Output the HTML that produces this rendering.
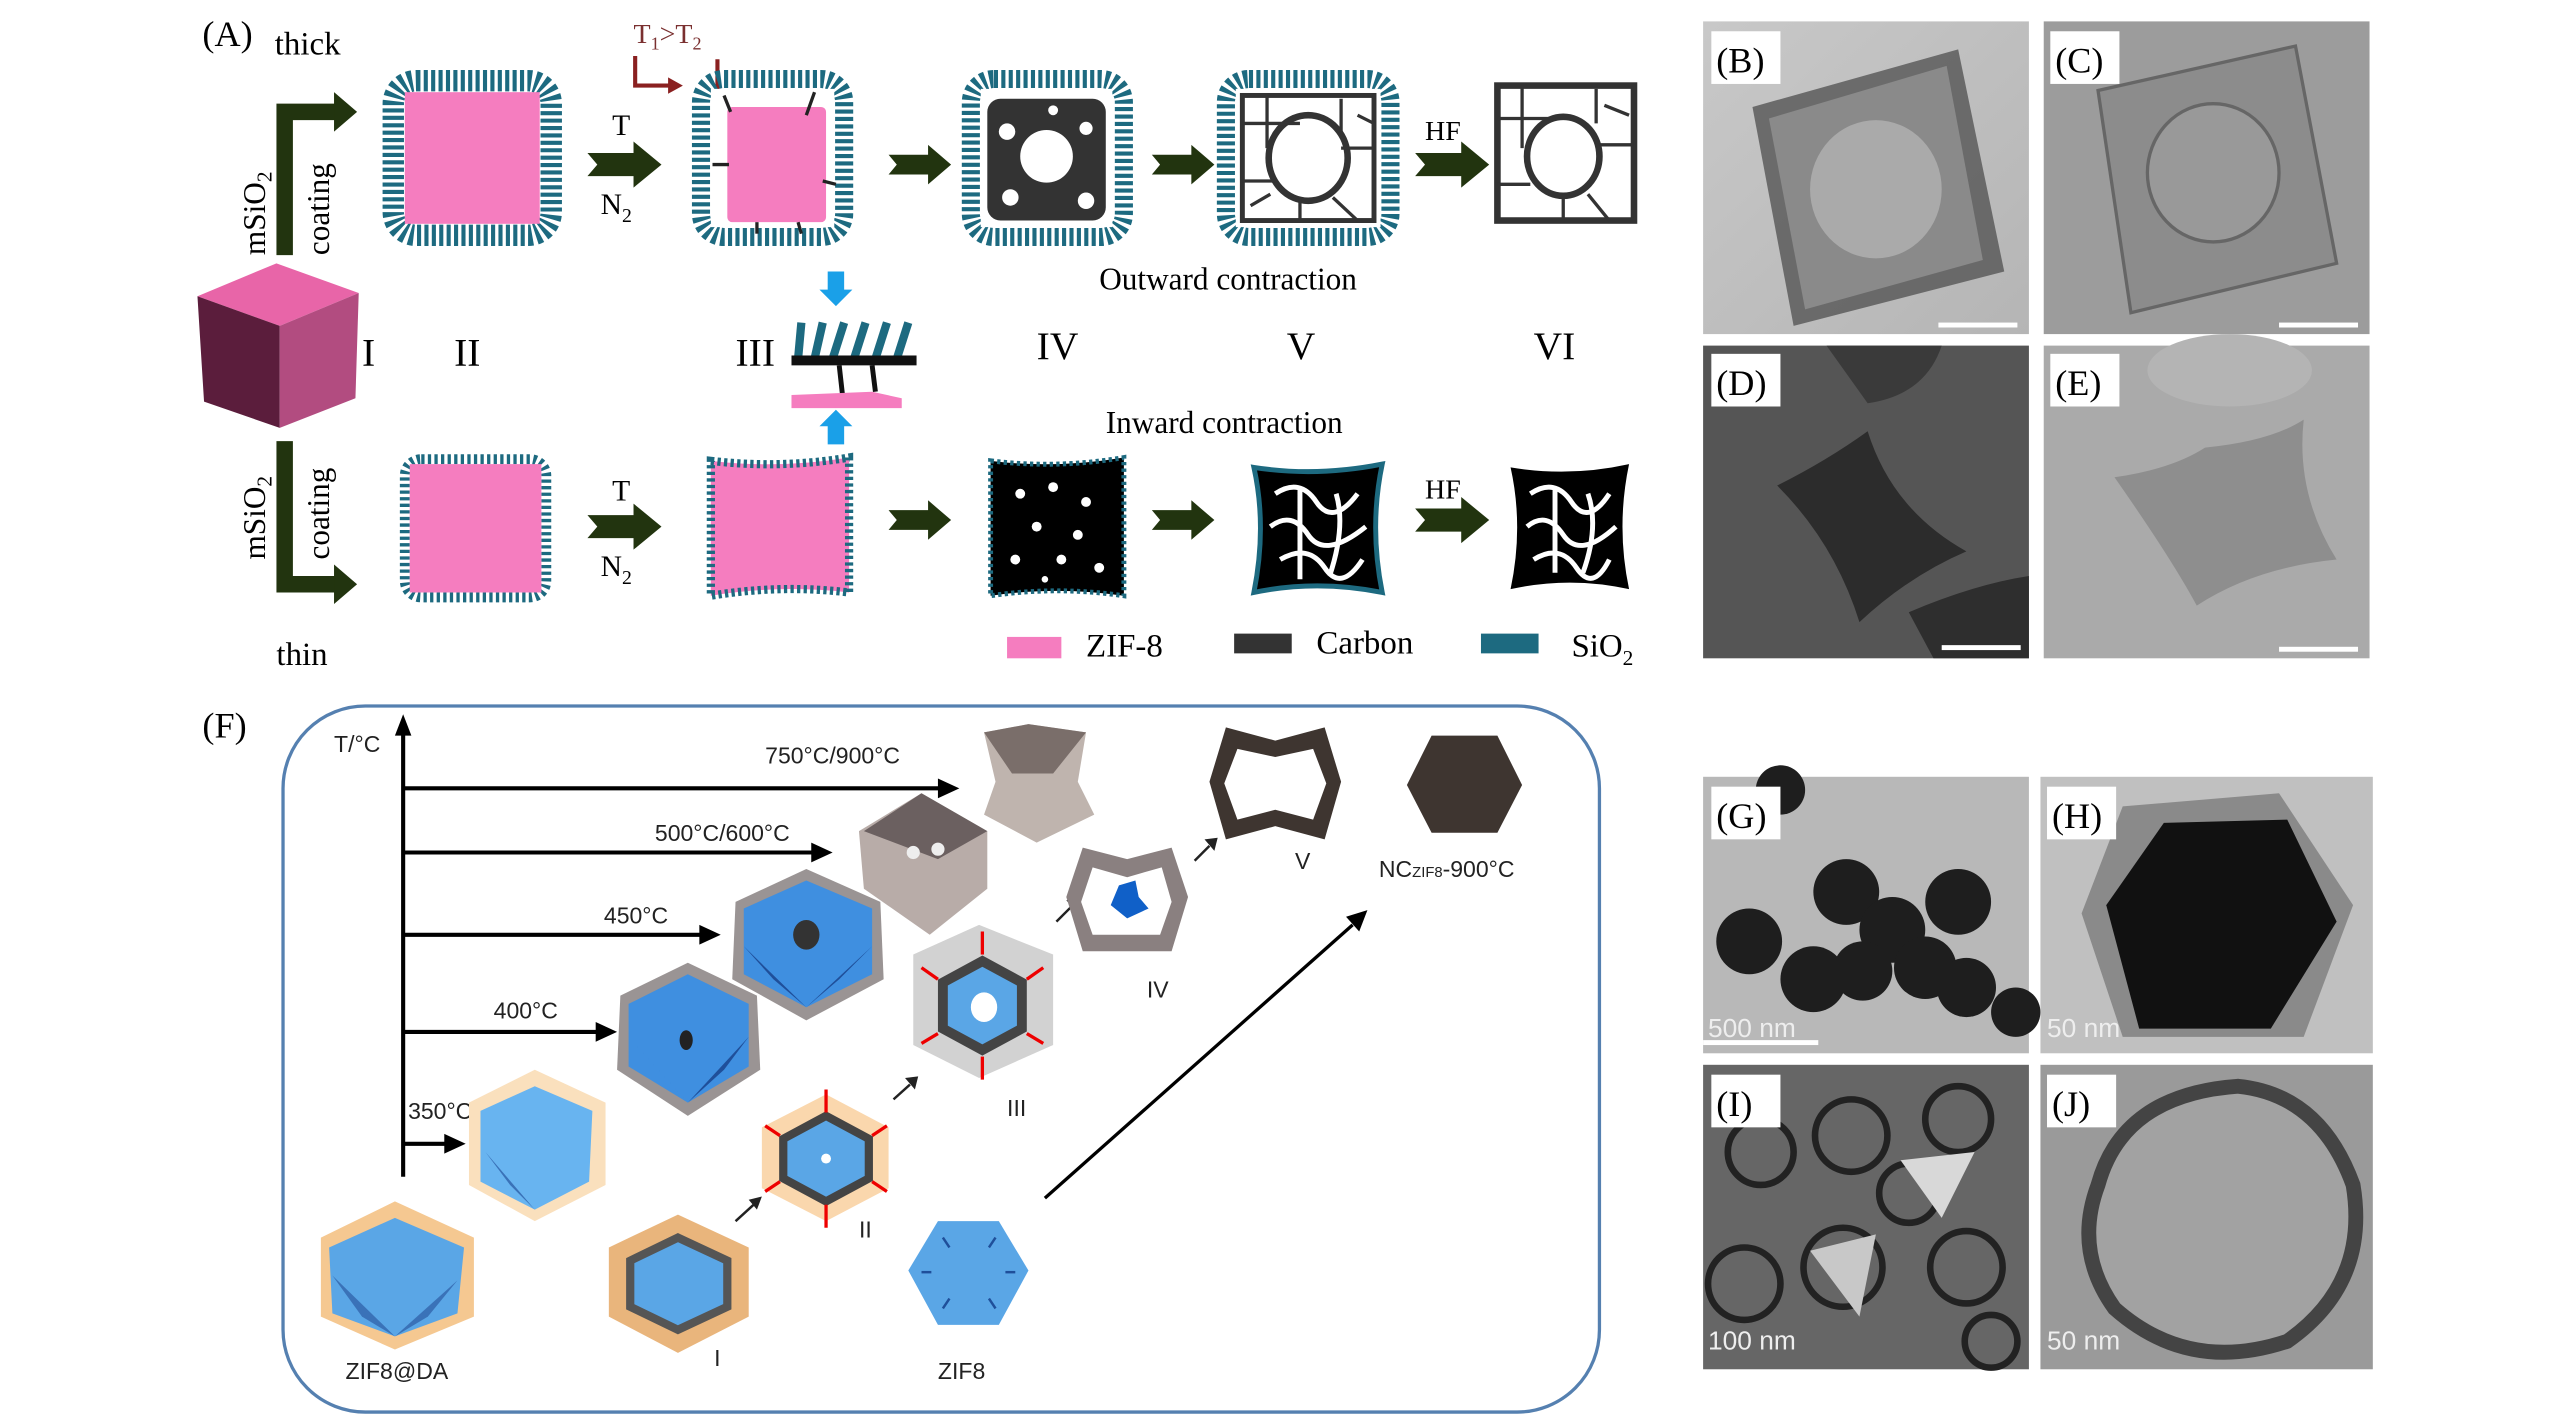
<!DOCTYPE html>
<html><head><meta charset="utf-8"><style>
html,body{margin:0;padding:0;background:#fff;}
svg{display:block;}
.s{font-family:"Liberation Serif",serif;}
.a{font-family:"Liberation Sans",sans-serif;}
</style></head><body>
<svg width="2567" height="1417" viewBox="0 0 1560 861" preserveAspectRatio="none" xmlns="http://www.w3.org/2000/svg">
<defs>
<g id="fat"><polygon points="0,-7 28,-7 28,-14 45,0 28,14 28,7 0,7 6,0" fill="#22340f"/></g>
<g id="fat2"><polygon points="0,-6 24,-6 24,-12 38,0 24,12 24,6 0,6 5,0" fill="#22340f"/></g>
<linearGradient id="gB" x1="0" y1="0" x2="1" y2="1"><stop offset="0" stop-color="#c8c8c8"/><stop offset="1" stop-color="#b5b5b5"/></linearGradient>
</defs>
<rect width="1560" height="861" fill="#fff"/>
<g class="s">
<text x="123" y="28" font-size="22">(A)</text>
<text x="167" y="33" font-size="20">thick</text>
<text x="168" y="404" font-size="20">thin</text>
<path d="M173,155 V68 H205" fill="none" stroke="#22340f" stroke-width="10"/>
<polygon points="203,56 217,68 203,80" fill="#22340f"/>
<path d="M173,268 V355 H205" fill="none" stroke="#22340f" stroke-width="10"/>
<polygon points="203,343 217,355 203,367" fill="#22340f"/>
<text transform="translate(161,155) rotate(-90)" font-size="19">mSiO<tspan font-size="13" dy="4">2</tspan></text>
<text transform="translate(200,155) rotate(-90)" font-size="19">coating</text>
<text transform="translate(161,340) rotate(-90)" font-size="19">mSiO<tspan font-size="13" dy="4">2</tspan></text>
<text transform="translate(200,340) rotate(-90)" font-size="19">coating</text>
<polygon points="120,180 168,160 218,178 170,198" fill="#e865a8"/>
<polygon points="120,180 170,198 170,260 124,244" fill="#5b1d3c"/>
<polygon points="170,198 218,178 216,242 170,260" fill="#b24c80"/>
<text x="220" y="222" font-size="24">I</text>
<text x="276" y="222" font-size="24">II</text>
<text x="447" y="222" font-size="24">III</text>
<text x="630" y="218" font-size="24">IV</text>
<text x="782" y="218" font-size="24">V</text>
<text x="932" y="218" font-size="24">VI</text>
<rect x="239" y="49" width="96" height="94" rx="14" fill="none" stroke="#1d6a80" stroke-width="13" stroke-dasharray="2.5 2"/>
<rect x="246" y="56" width="82" height="80" fill="#f57dbf"/>
<use href="#fat" x="357" y="100"/>
<text x="372" y="82" font-size="18">T</text>
<text x="365" y="130" font-size="18">N<tspan font-size="12" dy="5">2</tspan></text>
<text x="385" y="26" font-size="17" fill="#7a3030">T<tspan font-size="11" dy="4">1</tspan><tspan dy="-4">&gt;T</tspan><tspan font-size="11" dy="4">2</tspan></text>
<path d="M386,34 V52 H408" fill="none" stroke="#8a2020" stroke-width="2.5"/>
<polygon points="406,47 415,52 406,57" fill="#8a2020"/>
<path d="M436,36 V55" stroke="#8a2020" stroke-width="2.5"/>
<rect x="426" y="48" width="87" height="96" rx="14" fill="none" stroke="#1d6a80" stroke-width="11" stroke-dasharray="2.5 2"/>
<rect x="432" y="54" width="75" height="84" fill="#fff"/>
<rect x="442" y="65" width="60" height="70" fill="#f57dbf" rx="3"/>
<g stroke="#222" stroke-width="2"><line x1="440" y1="58" x2="444" y2="68"/><line x1="495" y1="56" x2="490" y2="70"/><line x1="433" y1="100" x2="443" y2="100"/><line x1="500" y1="110" x2="508" y2="112"/><line x1="460" y1="135" x2="460" y2="142"/><line x1="485" y1="135" x2="487" y2="142"/></g>
<use href="#fat2" x="540" y="100"/>
<rect x="590" y="48" width="93" height="96" rx="14" fill="none" stroke="#1d6a80" stroke-width="11" stroke-dasharray="2.5 2"/>
<rect x="596" y="54" width="80" height="84" fill="#fff"/>
<rect x="600" y="60" width="72" height="74" rx="8" fill="#333"/>
<circle cx="636" cy="95" r="16" fill="#fff"/>
<circle cx="612" cy="80" r="5" fill="#fff"/><circle cx="660" cy="78" r="4" fill="#fff"/><circle cx="614" cy="120" r="5" fill="#fff"/><circle cx="660" cy="122" r="5" fill="#fff"/><circle cx="640" cy="67" r="3" fill="#fff"/>
<use href="#fat2" x="700" y="100"/>
<rect x="745" y="48" width="100" height="96" rx="14" fill="none" stroke="#1d6a80" stroke-width="11" stroke-dasharray="2.5 2"/>
<rect x="751" y="54" width="88" height="84" fill="#fff"/>
<rect x="755" y="58" width="80" height="76" fill="none" stroke="#333" stroke-width="3"/>
<ellipse cx="795" cy="96" rx="24" ry="26" fill="none" stroke="#333" stroke-width="4"/>
<g stroke="#333" stroke-width="2" fill="none"><path d="M755,75 H790 M770,58 V90 M815,60 V80 M835,90 H815 M755,110 H775 M790,134 V120 M810,120 L825,134 M760,125 L772,118 M825,70 L835,75"/></g>
<use href="#fat" x="860" y="100"/>
<text x="866" y="85" font-size="17">HF</text>
<rect x="910" y="52" width="83" height="82" fill="none" stroke="#333" stroke-width="4"/>
<ellipse cx="950" cy="95" rx="22" ry="24" fill="none" stroke="#333" stroke-width="4"/>
<g stroke="#333" stroke-width="2" fill="none"><path d="M910,72 H945 M925,52 V90 M970,54 V75 M993,88 H972 M910,112 H930 M950,134 V120 M965,118 L978,134 M975,64 L990,70"/></g>
<text x="668" y="176" font-size="19">Outward contraction</text>
<text x="672" y="263" font-size="19">Inward contraction</text>
<polygon points="503,165 513,165 513,176 518,176 508,186 498,176 503,176" fill="#1aa0e8"/>
<polygon points="508,249 518,259 513,259 513,270 503,270 503,259 498,259" fill="#1aa0e8"/>
<g stroke="#1d6a80" stroke-width="5"><line x1="487" y1="196" x2="485" y2="218"/><line x1="500" y1="196" x2="495" y2="218"/><line x1="513" y1="196" x2="506" y2="218"/><line x1="526" y1="196" x2="519" y2="218"/><line x1="539" y1="196" x2="532" y2="218"/><line x1="552" y1="196" x2="545" y2="218"/></g>
<rect x="481" y="216" width="76" height="6" fill="#111"/>
<path d="M510,222 L512,240 M530,222 L532,238" stroke="#111" stroke-width="3"/>
<polygon points="481,240 530,238 548,242 548,248 481,248" fill="#f57dbf"/>
<rect x="246" y="279" width="86" height="84" rx="10" fill="none" stroke="#1d6a80" stroke-width="6" stroke-dasharray="2 2"/>
<rect x="249" y="282" width="80" height="78" fill="#f57dbf"/>
<use href="#fat" x="357" y="320"/>
<text x="372" y="304" font-size="18">T</text>
<text x="365" y="350" font-size="18">N<tspan font-size="12" dy="5">2</tspan></text>
<path d="M432,280 Q474,285 516,278 L516,360 Q474,355 432,362 Z" fill="#f57dbf" stroke="#1d6a80" stroke-width="5" stroke-dasharray="2 2"/>
<use href="#fat2" x="540" y="316"/>
<path d="M602,280 Q642,285 683,278 L683,362 Q642,356 602,362 Z" fill="#000" stroke="#1d6a80" stroke-width="3" stroke-dasharray="2 2"/>
<g fill="#fff"><circle cx="620" cy="300" r="3"/><circle cx="640" cy="296" r="3"/><circle cx="660" cy="305" r="3"/><circle cx="630" cy="320" r="3"/><circle cx="655" cy="325" r="3"/><circle cx="617" cy="340" r="3"/><circle cx="645" cy="340" r="3"/><circle cx="668" cy="345" r="3"/><circle cx="635" cy="352" r="2"/></g>
<use href="#fat2" x="700" y="316"/>
<path d="M762,284 Q800,290 840,282 Q832,320 840,360 Q800,352 762,360 Q770,320 762,284 Z" fill="#000" stroke="#1d6a80" stroke-width="3"/>
<g stroke="#fff" stroke-width="3" fill="none"><path d="M775,300 Q790,290 800,305 T825,300 M772,320 Q785,310 795,325 T830,320 M778,340 Q795,330 805,345 T828,340 M790,296 V352 M812,300 Q818,320 808,350"/></g>
<use href="#fat" x="860" y="316"/>
<text x="866" y="303" font-size="17">HF</text>
<path d="M918,284 Q954,290 990,282 Q982,320 990,358 Q954,350 918,358 Q926,320 918,284 Z" fill="#000"/>
<g stroke="#fff" stroke-width="3" fill="none"><path d="M930,300 Q945,290 955,305 T978,300 M928,320 Q940,310 950,325 T982,320 M932,340 Q948,330 958,345 T978,340 M945,296 V348 M965,300 Q972,320 962,348"/></g>
<rect x="612" y="387" width="33" height="13" fill="#f57dbf"/>
<text x="660" y="399" font-size="20">ZIF-8</text>
<rect x="750" y="385" width="35" height="12" fill="#333"/>
<text x="800" y="397" font-size="20">Carbon</text>
<rect x="900" y="385" width="35" height="12" fill="#1d6a80"/>
<text x="955" y="399" font-size="20">SiO<tspan font-size="13" dy="5">2</tspan></text>
</g>

<g class="s" font-size="22">
<rect x="1035" y="13" width="198" height="190" fill="url(#gB)"/>
<polygon points="1065,65 1190,30 1218,165 1090,198" fill="#555" opacity="0.8"/>
<polygon points="1075,72 1183,40 1205,158 1097,188" fill="#8a8a8a"/>
<ellipse cx="1140" cy="115" rx="40" ry="42" fill="#aaa"/>
<rect x="1178" y="196" width="48" height="3" fill="#fff"/>
<rect x="1040" y="19" width="42" height="32" fill="#fff"/><text x="1043" y="44">(B)</text>
<rect x="1242" y="13" width="198" height="190" fill="#9c9c9c"/>
<polygon points="1275,55 1395,28 1420,160 1295,190" fill="#8c8c8c" stroke="#666" stroke-width="2"/>
<ellipse cx="1345" cy="105" rx="40" ry="42" fill="#999" stroke="#666" stroke-width="2"/>
<rect x="1385" y="196" width="48" height="3" fill="#fff"/>
<rect x="1246" y="19" width="42" height="32" fill="#fff"/><text x="1249" y="44">(C)</text>
<rect x="1035" y="210" width="198" height="190" fill="#555"/>
<path d="M1080,295 Q1110,280 1135,262 Q1150,310 1195,335 Q1160,350 1130,378 Q1115,330 1080,295 Z" fill="#2c2c2c"/>
<path d="M1110,210 L1180,210 Q1170,240 1135,245 Z" fill="#3a3a3a"/>
<path d="M1160,372 Q1200,355 1233,350 L1233,400 L1175,400 Z" fill="#2e2e2e"/>
<rect x="1180" y="392" width="48" height="3" fill="#fff"/>
<rect x="1040" y="215" width="42" height="32" fill="#fff"/><text x="1043" y="240">(D)</text>
<rect x="1242" y="210" width="198" height="190" fill="#aaa"/>
<path d="M1285,290 Q1320,285 1340,272 Q1380,268 1400,255 Q1395,300 1420,340 Q1370,345 1335,368 Q1320,340 1285,290 Z" fill="#8e8e8e"/>
<ellipse cx="1355" cy="225" rx="50" ry="22" fill="#b4b4b4"/>
<rect x="1385" y="393" width="48" height="3" fill="#fff"/>
<rect x="1246" y="215" width="42" height="32" fill="#fff"/><text x="1249" y="240">(E)</text>
<rect x="1035" y="472" width="198" height="168" fill="#b8b8b8"/>
<g fill="#1e1e1e"><circle cx="1063" cy="572" r="20"/><circle cx="1122" cy="542" r="20"/><circle cx="1150" cy="565" r="20"/><circle cx="1102" cy="595" r="20"/><circle cx="1132" cy="590" r="18"/><circle cx="1170" cy="588" r="19"/><circle cx="1195" cy="600" r="18"/><circle cx="1225" cy="615" r="15"/><circle cx="1082" cy="480" r="15"/><circle cx="1190" cy="548" r="20"/></g>
<rect x="1035" y="632" width="70" height="3" fill="#fff"/>
<text x="1038" y="630" class="a" font-size="16" fill="#eee">500 nm</text>
<rect x="1040" y="478" width="42" height="32" fill="#fff"/><text x="1043" y="503">(G)</text>
<rect x="1240" y="472" width="202" height="168" fill="#c0c0c0"/>
<polygon points="1265,555 1290,490 1385,482 1430,550 1400,630 1290,630" fill="#8a8a8a"/>
<polygon points="1280,550 1315,500 1390,498 1420,560 1380,625 1300,625" fill="#111"/>
<text x="1244" y="630" class="a" font-size="16" fill="#eee">50 nm</text>
<rect x="1244" y="478" width="42" height="32" fill="#fff"/><text x="1247" y="503">(H)</text>
<rect x="1035" y="647" width="198" height="185" fill="#666"/>
<g fill="none" stroke="#222" stroke-width="4"><circle cx="1070" cy="700" r="20"/><circle cx="1125" cy="690" r="22"/><circle cx="1190" cy="680" r="20"/><circle cx="1060" cy="780" r="22"/><circle cx="1120" cy="770" r="24"/><circle cx="1195" cy="770" r="22"/><circle cx="1160" cy="725" r="18"/><circle cx="1210" cy="815" r="16"/></g>
<polygon points="1155,705 1200,700 1180,740" fill="#d8d8d8"/>
<polygon points="1100,760 1140,750 1130,800" fill="#c8c8c8"/>
<text x="1038" y="820" class="a" font-size="16" fill="#eee">100 nm</text>
<rect x="1040" y="653" width="42" height="32" fill="#fff"/><text x="1043" y="678">(I)</text>
<rect x="1240" y="647" width="202" height="185" fill="#9a9a9a"/>
<path d="M1275,720 Q1290,665 1360,660 Q1410,665 1430,720 Q1440,780 1390,815 Q1330,835 1285,795 Q1260,760 1275,720 Z" fill="#a2a2a2" stroke="#444" stroke-width="9"/>
<text x="1244" y="820" class="a" font-size="16" fill="#eee">50 nm</text>
<rect x="1244" y="653" width="42" height="32" fill="#fff"/><text x="1247" y="678">(J)</text>
</g>

<text x="123" y="448" class="s" font-size="22">(F)</text>
<rect x="172" y="429" width="800" height="429" rx="50" fill="none" stroke="#5580b0" stroke-width="2"/>
<g class="a" font-size="14" fill="#222">
<line x1="245" y1="715" x2="245" y2="445" stroke="#000" stroke-width="2.5"/>
<polygon points="240,447 245,434 250,447" fill="#000"/>
<text x="203" y="457">T/°C</text>
<line x1="245" y1="479" x2="572" y2="479" stroke="#000" stroke-width="2.5"/><polygon points="570,473 583,479 570,485" fill="#000"/>
<text x="465" y="464">750°C/900°C</text>
<line x1="245" y1="518" x2="495" y2="518" stroke="#000" stroke-width="2.5"/><polygon points="493,512 506,518 493,524" fill="#000"/>
<text x="398" y="511">500°C/600°C</text>
<line x1="245" y1="568" x2="427" y2="568" stroke="#000" stroke-width="2.5"/><polygon points="425,562 438,568 425,574" fill="#000"/>
<text x="367" y="561">450°C</text>
<line x1="245" y1="627" x2="364" y2="627" stroke="#000" stroke-width="2.5"/><polygon points="362,621 375,627 362,633" fill="#000"/>
<text x="300" y="619">400°C</text>
<line x1="245" y1="695" x2="272" y2="695" stroke="#000" stroke-width="2.5"/><polygon points="270,689 283,695 270,701" fill="#000"/>
<text x="248" y="680">350°C</text>
<polygon points="240,730 288,752 288,800 240,820 195,800 195,752" fill="#f5c891"/>
<polygon points="240,740 282,758 278,798 240,812 202,798 200,758" fill="#5aa6e6"/>
<polygon points="202,775 240,812 220,800" fill="#3a72b8"/>
<polygon points="278,778 240,812 260,800" fill="#3a72b8"/>
<text x="210" y="838">ZIF8@DA</text>
<polygon points="325,650 368,670 368,720 325,742 285,720 285,670" fill="#fae0bd"/>
<polygon points="325,660 360,675 358,718 325,735 292,718 292,675" fill="#68b4f0"/>
<polygon points="295,700 325,735 310,720" fill="#3a72b8"/>
<polygon points="418,585 460,605 462,650 418,678 375,650 377,605" fill="#9a9494"/>
<polygon points="418,592 455,610 455,648 418,670 382,648 382,610" fill="#3f8fe0"/>
<polygon points="382,630 418,670 400,650" fill="#1f4f9a"/>
<polygon points="455,630 418,670 440,650" fill="#1f4f9a"/>
<ellipse cx="417" cy="632" rx="4" ry="6" fill="#222"/>
<polygon points="490,528 535,548 537,595 490,620 445,595 447,548" fill="#9a9494"/>
<polygon points="490,535 530,552 530,592 490,612 452,592 452,552" fill="#3f8fe0"/>
<polygon points="452,575 490,612 470,595" fill="#1f4f9a"/>
<polygon points="530,575 490,612 510,595" fill="#1f4f9a"/>
<ellipse cx="490" cy="568" rx="8" ry="9" fill="#333"/>
<polygon points="560,482 600,505 600,540 565,568 525,540 522,505" fill="#b8aca8"/>
<polygon points="525,505 560,482 600,505 570,522" fill="#6b6060"/>
<circle cx="555" cy="518" r="4" fill="#eee"/><circle cx="570" cy="516" r="4" fill="#eee"/>
<polygon points="598,445 625,440 660,445 655,475 665,495 630,512 598,495 605,475" fill="#bfb4ae"/>
<polygon points="598,445 625,440 660,445 640,470 615,470" fill="#7a6e6a"/>
<polygon points="412,738 455,758 455,800 412,822 370,800 370,758" fill="#e9b57c"/>
<polygon points="412,752 442,766 442,794 412,808 383,794 383,766" fill="#5aa6e6" stroke="#555" stroke-width="5"/>
<text x="434" y="830">I</text>
<line x1="447" y1="742" x2="458" y2="732" stroke="#222" stroke-width="1.5"/><polygon points="455,729 463,727 460,735" fill="#222"/>
<polygon points="502,665 540,685 540,722 502,742 463,722 463,685" fill="#fad7ad"/>
<polygon points="502,678 528,692 528,716 502,730 476,716 476,692" fill="#5aa6e6" stroke="#444" stroke-width="5"/>
<circle cx="502" cy="704" r="3" fill="#fff"/>
<g stroke="#e00" stroke-width="2"><line x1="502" y1="676" x2="502" y2="662"/><line x1="502" y1="732" x2="502" y2="746"/><line x1="474" y1="690" x2="465" y2="684"/><line x1="530" y1="690" x2="539" y2="684"/><line x1="474" y1="718" x2="465" y2="724"/><line x1="530" y1="718" x2="539" y2="724"/></g>
<text x="522" y="752">II</text>
<line x1="543" y1="668" x2="553" y2="659" stroke="#222" stroke-width="1.5"/><polygon points="550,655 558,654 556,662" fill="#222"/>
<polygon points="595,562 640,580 640,635 595,655 555,635 555,580" fill="#d2d2d2"/>
<polygon points="597,584 621,597 621,625 597,638 573,625 573,597" fill="#5aa6e6" stroke="#444" stroke-width="6"/>
<ellipse cx="598" cy="612" rx="8" ry="9" fill="#fff"/>
<g stroke="#e00" stroke-width="2"><line x1="597" y1="580" x2="597" y2="566"/><line x1="597" y1="642" x2="597" y2="656"/><line x1="570" y1="595" x2="560" y2="588"/><line x1="624" y1="595" x2="634" y2="588"/><line x1="570" y1="628" x2="560" y2="634"/><line x1="624" y1="628" x2="634" y2="634"/></g>
<text x="612" y="678">III</text>
<line x1="642" y1="560" x2="651" y2="551" stroke="#222" stroke-width="1.5"/><polygon points="648,547 656,546 654,554" fill="#222"/>
<polygon points="658,515 685,522 712,515 722,545 712,578 658,578 648,545" fill="#8a8080"/>
<polygon points="664,527 685,533 706,527 712,548 705,568 664,568 657,548" fill="#fff"/>
<polygon points="680,538 690,535 692,545 698,552 685,558 675,550" fill="#1060c8"/>
<text x="697" y="606">IV</text>
<line x1="726" y1="523" x2="735" y2="514" stroke="#222" stroke-width="1.5"/><polygon points="732,510 740,509 738,517" fill="#222"/>
<polygon points="745,442 775,450 805,442 815,475 805,510 775,502 745,510 735,475" fill="#3e3530"/>
<polygon points="752,455 775,460 798,455 806,476 798,498 775,492 752,498 744,476" fill="#fff"/>
<text x="787" y="528">V</text>
<polygon points="870,447 910,447 925,477 910,506 870,506 855,477" fill="#3e3530"/>
<text x="838" y="533">NC<tspan font-size="9">ZIF8</tspan>-900°C</text>
<polygon points="570,742 607,742 625,772 607,805 570,805 552,772" fill="#5aa6e6"/>
<g stroke="#1f4f9a" stroke-width="1.5"><line x1="560" y1="773" x2="566" y2="773"/><line x1="617" y1="773" x2="611" y2="773"/><line x1="573" y1="752" x2="577" y2="758"/><line x1="605" y1="752" x2="601" y2="758"/><line x1="573" y1="795" x2="577" y2="789"/><line x1="605" y1="795" x2="601" y2="789"/></g>
<text x="570" y="838">ZIF8</text>
<line x1="635" y1="728" x2="822" y2="562" stroke="#000" stroke-width="2"/>
<polygon points="818,557 831,553 826,566" fill="#000"/>
</g>
</svg>
</body></html>
